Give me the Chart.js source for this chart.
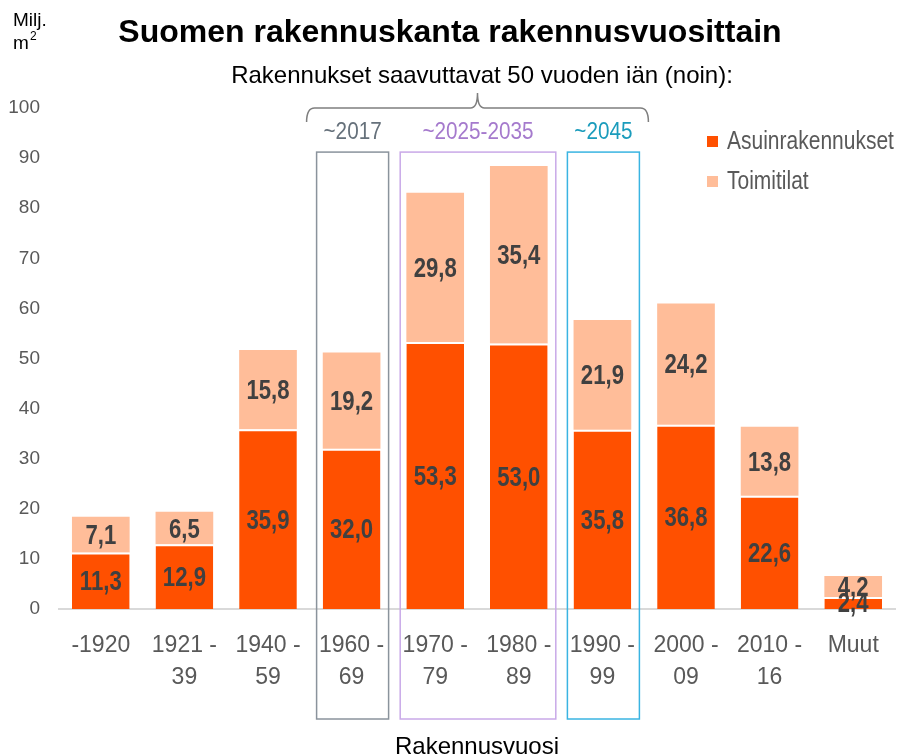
<!DOCTYPE html>
<html>
<head>
<meta charset="utf-8">
<script src="https://cdn.jsdelivr.net/npm/chart.js@4/dist/chart.umd.min.js"></script>
<style>
  html, body { margin: 0; padding: 0; background: #fff; }
</style>
</head>
<body>
<canvas id="chart" width="901" height="755"></canvas>
<script>
const categories = ['-1920', ['1921 -', '39'], ['1940 -', '59'], ['1960 -', '69'], ['1970 -', '79'],
  ['1980 -', '89'], ['1990 -', '99'], ['2000 -', '09'], ['2010 -', '16'], 'Muut'];
const asuinrakennukset = [11.3, 12.9, 35.9, 32.0, 53.3, 53.0, 35.8, 36.8, 22.6, 2.4];
const toimitilat = [7.1, 6.5, 15.8, 19.2, 29.8, 35.4, 21.9, 24.2, 13.8, 4.2];
const yTicks = [0, 10, 20, 30, 40, 50, 60, 70, 80, 90, 100];

// which bars get a frame, and the year the buildings turn 50
const ageGroups = [
  { from: 3, to: 3, text: '~2017', line: '#8a939c', color: '#66717b' },
  { from: 4, to: 5, text: '~2025-2035', line: '#c9a9e8', color: '#a57acd' },
  { from: 6, to: 6, text: '~2045', line: '#3ab4e2', color: '#1b9cbc' }
];

const FONT = "'Liberation Sans', Arial, sans-serif";
const GREY = '#595959';

// the original uses a narrow face; squeeze regular text sideways
function narrowText(ctx, txt, x, y, sx) {
  ctx.save();
  ctx.translate(x, y);
  ctx.scale(sx, 1);
  ctx.fillText(txt, 0, 0);
  ctx.restore();
}

const overlay = {
  id: 'overlay',
  afterDatasetsDraw(chart) {
    const ctx = chart.ctx;
    ctx.save();
    ctx.font = 'bold 27px ' + FONT;
    ctx.fillStyle = '#404040';
    ctx.textAlign = 'center';
    ctx.textBaseline = 'middle';
    chart.data.datasets.forEach((ds, d) => {
      chart.getDatasetMeta(d).data.forEach((bar, i) => {
        const txt = ds.data[i].toFixed(1).replace('.', ',');
        narrowText(ctx, txt, bar.x, (bar.y + bar.base) / 2 + 2, 0.82);
      });
    });
    ctx.restore();
  },
  afterDraw(chart) {
    const ctx = chart.ctx;
    const x = chart.scales.x, y = chart.scales.y, area = chart.chartArea;
    ctx.save();

    // title + subtitle
    ctx.fillStyle = '#000';
    ctx.textAlign = 'center';
    ctx.textBaseline = 'alphabetic';
    ctx.font = 'bold 32px ' + FONT;
    ctx.fillText('Suomen rakennuskanta rakennusvuosittain', 450, 42);
    ctx.font = '24px ' + FONT;
    ctx.fillText('Rakennukset saavuttavat 50 vuoden iän (noin):', 482, 83);

    // unit
    ctx.textAlign = 'left';
    ctx.font = '19px ' + FONT;
    ctx.fillText('Milj.', 13, 26);
    ctx.fillText('m', 13, 49);
    ctx.font = '12px ' + FONT;
    ctx.fillText('2', 30, 40);

    // x axis title
    ctx.textAlign = 'center';
    ctx.font = '24px ' + FONT;
    ctx.fillText('Rakennusvuosi', (area.left + area.right) / 2, 754);

    // frames around bars
    const pad = 37;
    const top = y.getPixelForValue(91.2);
    const bottom = area.bottom + 110;
    let braceL = null, braceR = null;
    ctx.lineWidth = 1.5;
    ageGroups.forEach(g => {
      const l = x.getPixelForValue(g.from) - pad + 2;
      const r = x.getPixelForValue(g.to) + pad;
      ctx.strokeStyle = g.line;
      ctx.strokeRect(l, top, r - l, bottom - top);
      ctx.fillStyle = g.color;
      ctx.font = '23px ' + FONT;
      narrowText(ctx, g.text, (l + r) / 2, 139, 0.9);
      if (braceL === null) braceL = l;
      braceR = r;
    });

    // curly brace
    const bl = braceL - 10, br = braceR + 9, bc = (bl + br) / 2;
    const yt = 93, ym = 108, yb = 122;
    ctx.strokeStyle = '#7f7f7f';
    ctx.lineWidth = 1.5;
    ctx.beginPath();
    ctx.moveTo(bl, yb);
    ctx.quadraticCurveTo(bl, ym, bl + 8, ym);
    ctx.lineTo(bc - 7, ym);
    ctx.quadraticCurveTo(bc, ym, bc, yt);
    ctx.quadraticCurveTo(bc, ym, bc + 7, ym);
    ctx.lineTo(br - 8, ym);
    ctx.quadraticCurveTo(br, ym, br, yb);
    ctx.stroke();

    // legend
    ctx.textAlign = 'left';
    ctx.textBaseline = 'middle';
    ctx.font = '25px ' + FONT;
    chart.data.datasets.forEach((ds, d) => {
      const ly = 141 + d * 40;
      ctx.fillStyle = ds.backgroundColor;
      ctx.fillRect(707, ly - 5, 11, 11);
      ctx.fillStyle = GREY;
      narrowText(ctx, ds.label, 727, ly + 1, 0.84);
    });

    ctx.restore();
  }
};

new Chart(document.getElementById('chart'), {
  type: 'bar',
  data: {
    labels: categories,
    datasets: [
      {
        label: 'Asuinrakennukset',
        data: asuinrakennukset,
        backgroundColor: '#ff5000',
        borderColor: '#ffffff',
        borderWidth: { top: 2, left: 0, right: 0, bottom: 0 },
        borderSkipped: false
      },
      {
        label: 'Toimitilat',
        data: toimitilat,
        backgroundColor: '#ffbd99',
        borderWidth: 0
      }
    ]
  },
  options: {
    responsive: false,
    animation: false,
    layout: { padding: { top: 108, left: 0, right: 6, bottom: 0 } },
    plugins: { legend: { display: false }, tooltip: { enabled: false } },
    datasets: { bar: { categoryPercentage: 1, barPercentage: 0.69 } },
    scales: {
      x: {
        stacked: true,
        grid: { display: false, drawTicks: false },
        border: { display: true, color: '#d9d9d9', width: 2 },
        ticks: { color: GREY, padding: 21, maxRotation: 0, autoSkip: false,
          font: { family: FONT, size: 23, lineHeight: 1.39 } },
        afterFit(scale) { scale.height = 146; }
      },
      y: {
        stacked: true,
        min: 0,
        max: 100,
        grid: { display: false, drawTicks: false },
        border: { display: false },
        afterBuildTicks(scale) { scale.ticks = yTicks.map(v => ({ value: v })); },
        ticks: { color: GREY, padding: 19, font: { family: FONT, size: 19 } },
        afterFit(scale) { scale.width = 59; }
      }
    }
  },
  plugins: [overlay]
});
</script>
</body>
</html>
